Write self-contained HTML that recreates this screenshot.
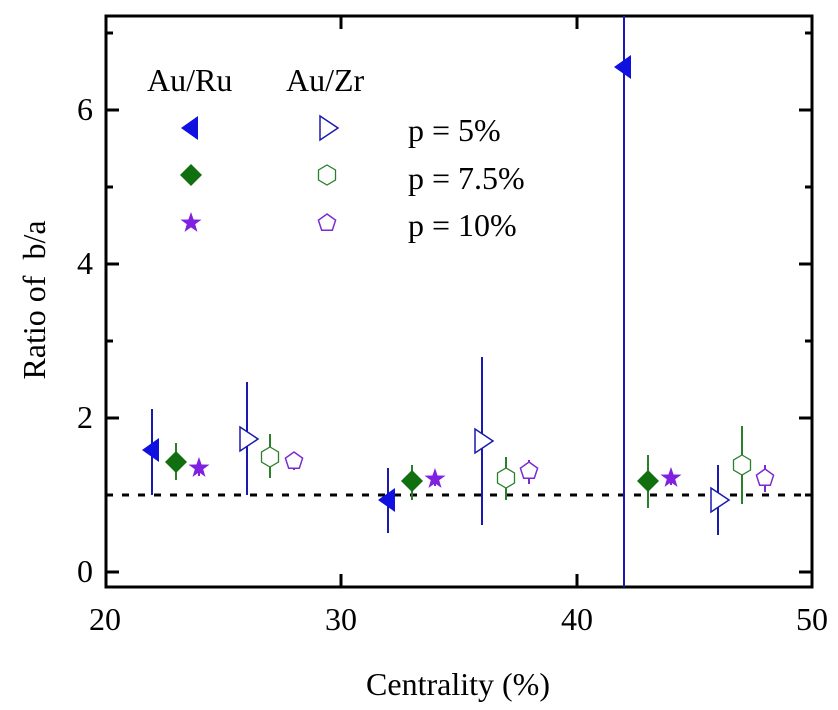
<!DOCTYPE html><html><head><style>body{margin:0;background:#fff;position:relative;width:838px;height:710px;overflow:hidden}
.t{position:absolute;font-family:"Liberation Serif","Times New Roman",Times,serif;font-size:32px;line-height:32px;color:#000;white-space:nowrap}
.c{transform:translateX(-50%)}.r{transform:translateX(-100%)}svg{position:absolute;left:0;top:0}</style></head><body>
<svg width="838" height="710" xmlns="http://www.w3.org/2000/svg">
<g stroke="#000" stroke-width="3">
<rect x="106" y="16" width="706" height="571" fill="none"/>
<path d="M106 572h13M106 418h13M106 264h13M106 110h13M106 495h7M106 341h7M106 187h7M106 33h7M812 572h-13M812 418h-13M812 264h-13M812 110h-13M812 495h-7M812 341h-7M812 187h-7M812 33h-7M341 587v-13M577 587v-13M341 16v13M577 16v13"/>
</g>
<line x1="106" y1="495" x2="812" y2="495" stroke="#000" stroke-width="3" stroke-dasharray="7,9"/>
<defs>
<path id="tl" d="M-10 0L7-12V12Z" fill="#1010e0"/>
<path id="tr" d="M-7-12L11 0L-7 12Z" fill="#fff" stroke="#1a1ab0" stroke-width="1.5"/>
<path id="dm" d="M0-11L11 0L0 11L-11 0Z" fill="#107010"/>
<path id="hx" d="M0-10L8.5-5V5L0 10L-8.5 5V-5Z" fill="#fff" stroke="#2a802a" stroke-width="1.3"/>
<path id="st" d="M0-11L2.6-3.5L10.5-3.4L4.2 1.3L6.5 8.9L0 4.4L-6.5 8.9L-4.2 1.3L-10.5-3.4L-2.6-3.5Z" fill="#8020e0"/>
<path id="pn" d="M0-9L8.6-2.8L5.3 7.3H-5.3L-8.6-2.8Z" fill="#fff" stroke="#7a2ad0" stroke-width="1.5"/>
</defs>
<g stroke-width="2">
<path stroke="#1a1ab0" d="M152 409V495M247 382V495M388 468V533M482 357V525M624 16V587M718 465V535"/>
<path stroke="#2a802a" d="M176 443V480M270 434V478M412 465V500M506 457V500M648 455V508M742 426V504"/>
<path stroke="#7a2ad0" d="M199 460V476M294 452V470M435 472V486M529 460V484M671 471V485M765 465V492"/>
</g>
<use href="#tl" x="152" y="450"/><use href="#dm" x="176" y="462"/><use href="#st" x="199" y="468"/>
<use href="#tr" x="247" y="439"/><use href="#hx" x="270" y="457"/><use href="#pn" x="294" y="461"/>
<use href="#tl" x="388" y="500"/><use href="#dm" x="412" y="481"/><use href="#st" x="435" y="479"/>
<use href="#tr" x="482" y="441"/><use href="#hx" x="506" y="478"/><use href="#pn" x="529" y="471"/>
<use href="#tl" x="624" y="67"/><use href="#dm" x="648" y="481"/><use href="#st" x="671" y="478"/>
<use href="#tr" x="718" y="500"/><use href="#hx" x="742" y="465"/><use href="#pn" x="765" y="478"/>
<use href="#tl" x="191" y="128"/><use href="#tr" x="327" y="128"/>
<use href="#dm" x="191" y="175"/><use href="#hx" x="327" y="175"/>
<use href="#st" x="191" y="223"/><use href="#pn" x="327" y="223"/>
</svg>
<div class="t c" style="left:105px;top:603px">20</div><div class="t c" style="left:341px;top:603px">30</div><div class="t c" style="left:577px;top:603px">40</div><div class="t c" style="left:812px;top:603px">50</div>
<div class="t r" style="left:93px;top:555px">0</div><div class="t r" style="left:93px;top:401px">2</div><div class="t r" style="left:93px;top:247px">4</div><div class="t r" style="left:93px;top:93px">6</div>
<div class="t c" style="left:458px;top:668px">Centrality (%)</div>
<div class="t" style="left:34px;top:300px;transform:translate(-50%,-50%) rotate(-90deg)">Ratio of&nbsp; b/a</div>
<div class="t" style="left:147px;top:64px">Au/Ru</div><div class="t" style="left:286px;top:64px">Au/Zr</div>
<div class="t" style="left:408px;top:114px">p = 5%</div><div class="t" style="left:408px;top:162px">p = 7.5%</div><div class="t" style="left:408px;top:209px">p = 10%</div>
</body></html>
